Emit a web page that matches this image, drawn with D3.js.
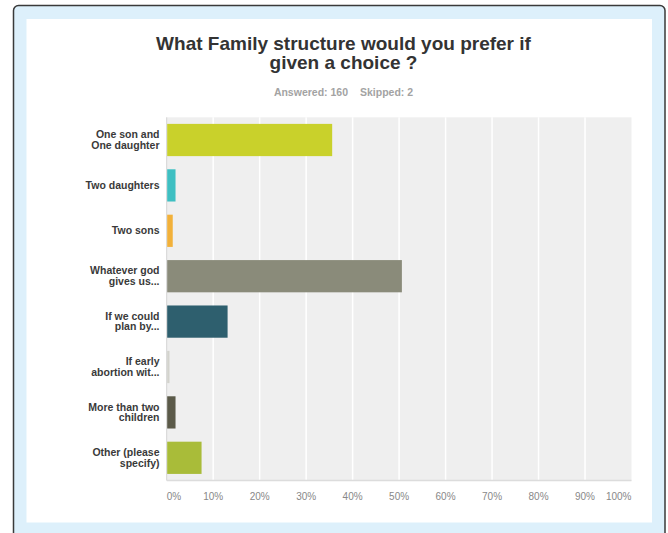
<!DOCTYPE html>
<html>
<head>
<meta charset="utf-8">
<script src="https://cdn.jsdelivr.net/npm/d3@7"></script>
<style>
  html, body { margin: 0; padding: 0; background: #ffffff; }
  svg { display: block; }
  text { font-family: "Liberation Sans", Arial, Helvetica, sans-serif; }
</style>
</head>
<body>
<svg id="chart" width="668" height="533"></svg>
<script>
// Survey answers, one entry per response option (label lines, percent of respondents, bar colour)
const categories = [
  ["One son and", "One daughter"],
  ["Two daughters"],
  ["Two sons"],
  ["Whatever god", "gives us..."],
  ["If we could", "plan by..."],
  ["If early", "abortion wit..."],
  ["More than two", "children"],
  ["Other (please", "specify)"]
];
const values = [35.6, 1.9, 1.3, 50.6, 13.1, 0.6, 1.9, 7.5];
const colors = ["#c9d12b", "#3ebfc2", "#f2b13a", "#8a8b7a", "#2e5f6e", "#d3d3cd", "#5b5a49", "#a9bc39"];
const tickValues = [0, 10, 20, 30, 40, 50, 60, 70, 80, 90, 100];
const titleLines = ["What Family structure would you prefer if", "given a choice ?"];
const answered = 160;
const skipped = 2;

const svg = d3.select("#chart");

// Frame: dark rounded border, light blue margin, white card
svg.append("rect")
  .attr("x", 13.5).attr("y", 5.5)
  .attr("width", 651.5).attr("height", 540)
  .attr("rx", 5).attr("ry", 5)
  .attr("fill", "#ddf0fb")
  .attr("stroke", "#3a3a3a")
  .attr("stroke-width", 1.5);

svg.append("rect")
  .attr("x", 26.5).attr("y", 19)
  .attr("width", 625.5).attr("height", 503.5)
  .attr("fill", "#ffffff");

// Title and response counts
const cx = 343.5;
svg.append("g")
  .selectAll("text")
  .data(titleLines)
  .join("text")
  .attr("x", cx)
  .attr("y", (d, i) => 50 + i * 19.3)
  .attr("text-anchor", "middle")
  .attr("font-size", 19)
  .attr("font-weight", "bold")
  .attr("fill", "#333333")
  .text(d => d);

const sub = svg.append("text")
  .attr("x", cx)
  .attr("y", 96)
  .attr("text-anchor", "middle")
  .attr("font-size", 10.5)
  .attr("font-weight", "bold")
  .attr("fill", "#a3a3a3");
sub.append("tspan").text(`Answered: ${answered}`);
sub.append("tspan").attr("dx", 12).text(`Skipped: ${skipped}`);

// Scales
const plotLeft = 166.7, plotRight = 631.5, plotTop = 117.3, plotBottom = 480.5;
const x = d3.scaleLinear().domain([0, 100]).range([plotLeft, plotRight]);
const y = d3.scaleBand()
  .domain(d3.range(categories.length))
  .range([plotTop, plotBottom])
  .paddingInner(0.29)
  .paddingOuter(0.145);

// Plot background
svg.append("rect")
  .attr("x", plotLeft).attr("y", plotTop)
  .attr("width", plotRight - plotLeft)
  .attr("height", plotBottom - plotTop)
  .attr("fill", "#efefef");

// Vertical gridlines
svg.append("g")
  .selectAll("line")
  .data(tickValues.slice(1, -1))
  .join("line")
  .attr("x1", d => x(d)).attr("x2", d => x(d))
  .attr("y1", plotTop).attr("y2", plotBottom)
  .attr("stroke", "#ffffff")
  .attr("stroke-width", 1.5);

// Left and bottom axis lines
svg.append("line")
  .attr("x1", plotLeft).attr("x2", plotLeft)
  .attr("y1", plotTop).attr("y2", plotBottom)
  .attr("stroke", "#d4d4d4").attr("stroke-width", 1);
svg.append("line")
  .attr("x1", plotLeft).attr("x2", plotRight)
  .attr("y1", plotBottom).attr("y2", plotBottom)
  .attr("stroke", "#dcdcdc").attr("stroke-width", 1.5);

// Bars
svg.append("g")
  .selectAll("rect")
  .data(values)
  .join("rect")
  .attr("x", x(0) + 0.5)
  .attr("y", (d, i) => y(i))
  .attr("width", d => Math.max(0, x(d) - x(0) - 0.5))
  .attr("height", y.bandwidth())
  .attr("fill", (d, i) => colors[i]);

// Category labels (right aligned, one or two lines)
const labelG = svg.append("g");
categories.forEach((lines, i) => {
  const c = y(i) + y.bandwidth() / 2;
  const lh = 10.7;
  const first = c + 3.5 - (lines.length - 1) * lh / 2;
  lines.forEach((ln, j) => {
    labelG.append("text")
      .attr("x", 159.5)
      .attr("y", first + j * lh)
      .attr("text-anchor", "end")
      .attr("font-size", 10.5)
      .attr("font-weight", "bold")
      .attr("fill", "#3a3a3a")
      .text(ln);
  });
});

// Percentage tick labels
svg.append("g")
  .selectAll("text")
  .data(tickValues)
  .join("text")
  .attr("x", d => x(d))
  .attr("y", 500)
  .attr("text-anchor", (d, i) => i === 0 ? "start" : (i === tickValues.length - 1 ? "end" : "middle"))
  .attr("font-size", 10)
  .attr("fill", "#888888")
  .text(d => d + "%");
</script>
</body>
</html>
